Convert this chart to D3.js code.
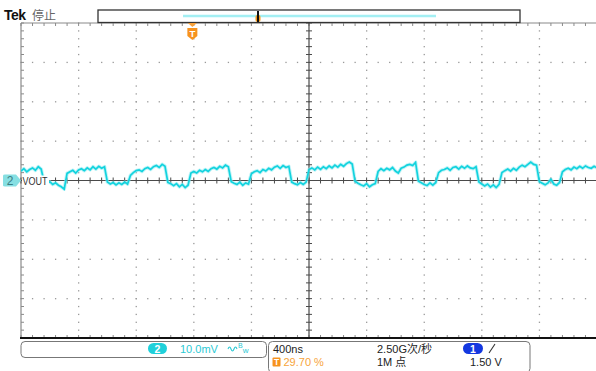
<!DOCTYPE html>
<html><head><meta charset="utf-8">
<script src="https://cdn.jsdelivr.net/npm/d3@7"></script>
<style>
html,body{margin:0;padding:0;background:#fff;overflow:hidden;}
svg{display:block;font-family:"Liberation Sans",Arial,sans-serif;}
</style></head><body>
<svg id="scope" width="596" height="371"></svg>
<script>
// Channel 2 (VOUT) acquisition, one sample every 20 ns from -2000 ns, in mV
const sampleStartNs = -2000;
const sampleStepNs = 20;
const voutMv = [
  2.4, 3.0, 2.2, 2.8, 3.2, 2.6, 3.5, 2.9,
  -0.3,
  -0.7, -0.3, -1.0, -0.6, -1.2, -1.6, -2.2,
  1.8,
  2.2, 2.6, 1.9, 2.7, 3.0, 2.5, 3.2, 2.7, 3.5, 2.9, 3.6, 3.1, 3.5,
  -0.4,
  -0.9, -0.5, -1.1, -0.6, -1.0, -0.4, -0.9,
  1.3,
  2.0, 2.5, 2.7, 2.3, 3.0, 3.3, 2.8, 3.5, 3.8, 3.3, 4.1, 3.6,
  -0.5,
  -0.8, -1.3, -0.8, -1.6, -1.0, -1.8, -1.2,
  1.9,
  2.3, 1.9, 2.6, 2.2, 2.8, 2.3, 3.0, 3.3, 2.9, 3.6, 3.2, 3.9, 3.5,
  -0.3,
  -0.7, -1.0, -0.4, -1.2, -0.6, -0.9,
  1.7,
  2.2, 2.5, 2.0, 2.8, 2.4, 3.1, 2.7, 3.4, 3.7, 3.1, 3.8, 3.3, 3.6,
  -0.4,
  -0.8, -1.1, -0.5, -1.0, -0.4,
  2.8,
  3.2, 2.7, 3.4, 2.8, 3.5, 3.0, 3.7, 3.2, 3.9, 3.4, 4.1, 3.6, 4.3, 4.7, 4.2,
  -0.2,
  -0.7, -1.1, -1.4, -0.8, -1.6, -1.1, -0.8,
  2.3,
  3.0, 2.5, 3.1, 2.7, 3.3, 2.4, 1.9, 3.1, 3.4, 3.9, 4.1, 3.8, 4.6,
  -0.2,
  -0.6, -1.0, -1.3, -0.6, -1.2, -0.5,
  2.0,
  2.6, 2.8, 3.2, 2.6, 3.3, 3.5, 2.9, 3.6, 3.1, 3.7, 3.2, 3.0, 3.5,
  -0.4,
  -0.9, -1.4, -0.9, -1.7, -1.1, -1.8, -1.0,
  2.0,
  2.5, 2.9, 2.4, 3.1, 2.6, 3.4, 3.9, 3.5, 4.1, 4.7, 4.1, 3.9,
  -0.3,
  -0.7, -1.1, -0.6, 0.3, -0.9, -1.2, -0.5,
  2.2,
  2.8, 3.1, 2.7, 3.4, 3.0, 3.6, 3.1, 3.7, 3.3, 3.1, 3.6, 3.2
];

// Display settings
const timePerDivNs = 400;
const voltsPerDivMv = 10;
const horizontalDivs = 10;
const verticalDivs = 8;
const triggerTimeNs = -810;

// Readout texts
const statusTexts = ["Tek", "停止"];
const channelName = "VOUT";
const channelNumber = "2";
const channelScale = "10.0mV";
const timebaseText = "400ns";
const triggerPosText = "29.70 %";
const sampleRateText = "2.50G次/秒";
const recordLengthText = "1M 点";
const triggerSourceText = "1";
const triggerLevelText = "1.50 V";

const svg = d3.select("#scope");
const gLeft = 21, gRight = 597, gTop = 23, gBottom = 338;
const halfT = timePerDivNs * horizontalDivs / 2;
const halfV = voltsPerDivMv * verticalDivs / 2;
const x = d3.scaleLinear().domain([-halfT, halfT]).range([gLeft, gRight]);
const y = d3.scaleLinear().domain([-halfV, halfV]).range([gBottom, gTop]);

const minorT = timePerDivNs / 5, minorV = voltsPerDivMv / 5;
const majorTs = d3.range(-halfT, halfT + 1, timePerDivNs);
const majorVs = d3.range(-halfV, halfV + 0.01, voltsPerDivMv);
const minorTs = d3.range(-halfT, halfT + 1, minorT);
const minorVs = d3.range(-halfV, halfV + 0.01, minorV);

const grid = svg.append("g");
// dotted division lines
majorTs.filter(t => t !== 0 && t !== -halfT && t !== halfT).forEach(t => {
  grid.selectAll(null).data(minorVs).enter().append("rect")
    .attr("x", x(t) - 0.6).attr("y", d => y(d) - 0.6)
    .attr("width", 1.3).attr("height", 1.3).attr("fill", "#9a9a9a");
});
majorVs.filter(v => v !== 0 && v !== -halfV && v !== halfV).forEach(v => {
  grid.selectAll(null).data(minorTs).enter().append("rect")
    .attr("x", d => x(d) - 0.6).attr("y", y(v) - 0.6)
    .attr("width", 1.3).attr("height", 1.3).attr("fill", "#9a9a9a");
});

// border
grid.append("line").attr("x1", gLeft).attr("x2", gRight).attr("y1", gTop).attr("y2", gTop)
  .attr("stroke", "#8a8a8a").attr("stroke-width", 1.2);
grid.append("line").attr("x1", gLeft).attr("x2", gLeft).attr("y1", gTop).attr("y2", gBottom)
  .attr("stroke", "#8a8a8a").attr("stroke-width", 1.2);
grid.selectAll(null).data(minorTs).enter().append("line")
  .attr("x1", d => x(d)).attr("x2", d => x(d)).attr("y1", gTop).attr("y2", gTop + 3)
  .attr("stroke", "#8a8a8a");
grid.selectAll(null).data(minorVs).enter().append("line")
  .attr("x1", gLeft).attr("x2", gLeft + 3).attr("y1", d => y(d)).attr("y2", d => y(d))
  .attr("stroke", "#8a8a8a");
grid.selectAll(null).data(minorTs).enter().append("line")
  .attr("x1", d => x(d)).attr("x2", d => x(d)).attr("y1", gBottom - 3).attr("y2", gBottom)
  .attr("stroke", "#8a8a8a");

// center cross with minor ticks
grid.append("line").attr("x1", x(0)).attr("x2", x(0)).attr("y1", gTop).attr("y2", gBottom)
  .attr("stroke", "#4a4a4a").attr("stroke-width", 1.2);
grid.append("line").attr("x1", gLeft).attr("x2", gRight).attr("y1", y(0)).attr("y2", y(0))
  .attr("stroke", "#4a4a4a").attr("stroke-width", 1.2);
grid.selectAll(null).data(minorVs).enter().append("line")
  .attr("x1", x(0) - 3).attr("x2", x(0) + 3).attr("y1", d => y(d)).attr("y2", d => y(d))
  .attr("stroke", "#4a4a4a");
grid.selectAll(null).data(minorTs).enter().append("line")
  .attr("x1", d => x(d)).attr("x2", d => x(d)).attr("y1", y(0) - 3).attr("y2", y(0) + 3)
  .attr("stroke", "#4a4a4a");

grid.append("line").attr("x1", gLeft - 1).attr("x2", gRight).attr("y1", gBottom).attr("y2", gBottom)
  .attr("stroke", "#111").attr("stroke-width", 2.2);

// waveform
svg.append("clipPath").attr("id", "plotClip").append("rect")
  .attr("x", gLeft).attr("y", gTop).attr("width", gRight - gLeft).attr("height", gBottom - gTop);
const line = d3.line()
  .x((d, i) => x(sampleStartNs + i * sampleStepNs))
  .y(d => y(d));
const wave = svg.append("g").attr("clip-path", "url(#plotClip)");
wave.append("path").datum(voutMv).attr("d", line)
  .attr("fill", "none").attr("stroke", "#8eeaf0").attr("stroke-width", 3.6)
  .attr("stroke-linejoin", "round").attr("opacity", 0.55);
wave.append("path").datum(voutMv).attr("d", line)
  .attr("fill", "none").attr("stroke", "#12d3de").attr("stroke-width", 1.7)
  .attr("stroke-linejoin", "miter");

// channel marker and label
const gy = y(0);
svg.append("path")
  .attr("d", `M3,${gy - 5} Q3,${gy - 6} 5,${gy - 6} L16,${gy - 6} L21,${gy} L16,${gy + 6} L5,${gy + 6} Q3,${gy + 6} 3,${gy + 5} Z`)
  .attr("fill", "#86dfe2");
svg.append("text").attr("x", 10).attr("y", gy + 4.5).attr("text-anchor", "middle")
  .attr("font-size", 12).attr("fill", "#3c7e82").text(channelNumber);
svg.append("rect").attr("x", 22).attr("y", gy - 5).attr("width", 27).attr("height", 10).attr("fill", "#fff");
svg.append("text").attr("x", 22.5).attr("y", gy + 4.5)
  .attr("font-size", 11).attr("fill", "#333").attr("textLength", 25).attr("lengthAdjust", "spacingAndGlyphs")
  .text(channelName);

// header
svg.append("text").attr("x", 4).attr("y", 20).attr("font-size", 14).attr("font-weight", "bold")
  .attr("fill", "#111").attr("letter-spacing", -0.5).text(statusTexts[0]);
svg.append("text").attr("x", 32).attr("y", 20).attr("font-size", 12)
  .attr("font-family", "'Noto Sans CJK SC',sans-serif").attr("fill", "#666").text(statusTexts[1]);

// record view bar
svg.append("rect").attr("x", 98).attr("y", 10).attr("width", 422).attr("height", 12.5)
  .attr("fill", "#fff").attr("stroke", "#333").attr("stroke-width", 1.3);
svg.append("line").attr("x1", 183).attr("x2", 436).attr("y1", 16).attr("y2", 16)
  .attr("stroke", "#a3eff3").attr("stroke-width", 2.4);
svg.append("rect").attr("x", 255.5).attr("y", 15).attr("width", 5).attr("height", 7).attr("rx", 2)
  .attr("fill", "#f39a1e");
svg.append("line").attr("x1", 258).attr("x2", 258).attr("y1", 11).attr("y2", 22)
  .attr("stroke", "#111").attr("stroke-width", 2);

// trigger position marker
const tx = x(triggerTimeNs);
svg.append("path").attr("d", `M${tx - 4.5},${gTop} L${tx + 4.5},${gTop} L${tx},${gTop + 4} Z`).attr("fill", "#f7a13a");
svg.append("path")
  .attr("d", `M${tx - 5},${gTop + 5} L${tx + 5},${gTop + 5} L${tx + 5},${gTop + 13} L${tx},${gTop + 17} L${tx - 5},${gTop + 13} Z`)
  .attr("fill", "#f7931e");
svg.append("text").attr("x", tx).attr("y", gTop + 13.5).attr("text-anchor", "middle")
  .attr("font-size", 9.5).attr("font-weight", "bold").attr("fill", "#fff").text("T");

// bottom readouts
const info = svg.append("g");
info.append("rect").attr("x", 21).attr("y", 341.5).attr("width", 245.5).attr("height", 16)
  .attr("rx", 4).attr("fill", "#fff").attr("stroke", "#777").attr("stroke-width", 1);
info.append("rect").attr("x", 148).attr("y", 343).attr("width", 19).attr("height", 11).attr("rx", 5.5)
  .attr("fill", "#1fd0da");
info.append("text").attr("x", 157.5).attr("y", 352.5).attr("text-anchor", "middle")
  .attr("font-size", 10.5).attr("font-weight", "bold").attr("fill", "#fff").text(channelNumber);
info.append("text").attr("x", 180).attr("y", 353).attr("font-size", 11).attr("fill", "#2cc9d4").text(channelScale);
// bandwidth-limit icon
info.append("path").attr("d", "M228,349 q1.5,-4 3,0 t3,0 t3,0")
  .attr("fill", "none").attr("stroke", "#2cc9d4").attr("stroke-width", 1.1);
const bw = info.append("text").attr("x", 238).attr("y", 348).attr("font-size", 7).attr("fill", "#2cc9d4");
bw.append("tspan").text("B");
bw.append("tspan").attr("dy", 5).attr("font-size", 8).text("w");

info.append("rect").attr("x", 268.5).attr("y", 341.5).attr("width", 261.5).attr("height", 31)
  .attr("rx", 4).attr("fill", "#fff").attr("stroke", "#777").attr("stroke-width", 1);
info.append("text").attr("x", 273).attr("y", 353).attr("font-size", 11).attr("fill", "#222").text(timebaseText);
info.append("rect").attr("x", 272.5).attr("y", 357.5).attr("width", 8).attr("height", 9).attr("rx", 1)
  .attr("fill", "#f7931e");
info.append("text").attr("x", 276.5).attr("y", 365).attr("text-anchor", "middle")
  .attr("font-size", 8.5).attr("font-weight", "bold").attr("fill", "#fff").text("T");
info.append("text").attr("x", 283.5).attr("y", 366).attr("font-size", 11).attr("fill", "#f7a43a").text(triggerPosText);
info.append("text").attr("x", 377).attr("y", 353).attr("font-size", 11).attr("fill", "#222")
  .attr("font-family", "'Liberation Sans','Noto Sans CJK SC',sans-serif").text(sampleRateText);
info.append("text").attr("x", 377).attr("y", 366).attr("font-size", 11).attr("fill", "#222")
  .attr("font-family", "'Liberation Sans','Noto Sans CJK SC',sans-serif").text(recordLengthText);
info.append("rect").attr("x", 463).attr("y", 343).attr("width", 20).attr("height", 11).attr("rx", 5.5)
  .attr("fill", "#1438e0");
info.append("text").attr("x", 473).attr("y", 352.5).attr("text-anchor", "middle")
  .attr("font-size", 10.5).attr("font-weight", "bold").attr("fill", "#fff").text(triggerSourceText);
info.append("path").attr("d", "M489,353 L495,344").attr("stroke", "#333").attr("stroke-width", 1.1);
info.append("text").attr("x", 470).attr("y", 366).attr("font-size", 11).attr("fill", "#222").text(triggerLevelText);
</script>
</body></html>
